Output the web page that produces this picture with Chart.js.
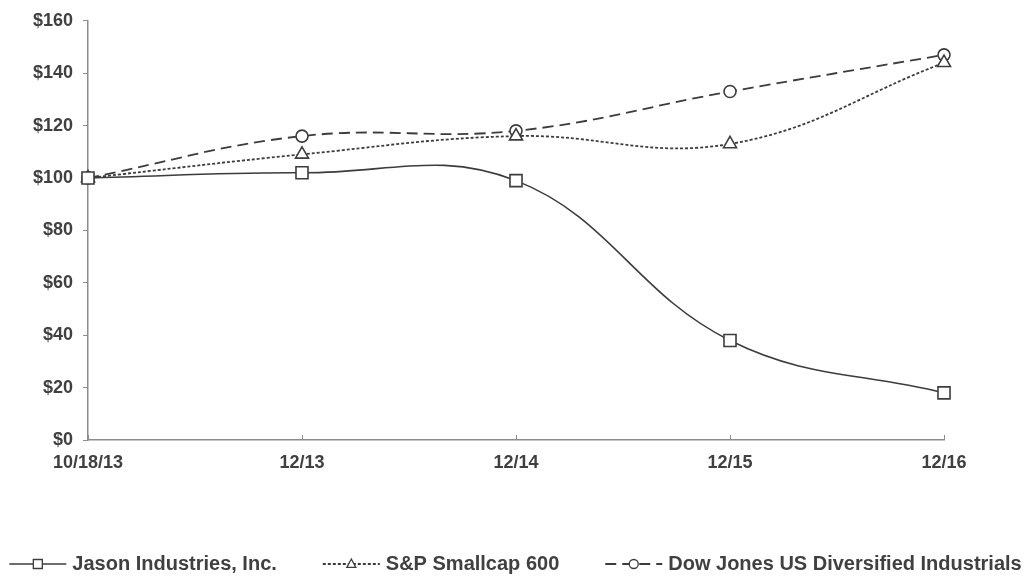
<!DOCTYPE html>
<html>
<head>
<meta charset="utf-8">
<script src="https://cdn.jsdelivr.net/npm/chart.js@4.4.0/dist/chart.umd.min.js"></script>
<style>
  html, body { margin: 0; padding: 0; background: #fff; }
  #wrap { width: 1031px; height: 579px; }
</style>
</head>
<body>
<div id="wrap"><canvas id="perfChart" width="1031" height="579"></canvas></div>
<script>
// ===== Data =====
const periods = ['10/18/13', '12/13', '12/14', '12/15', '12/16'];
const jasonValues = [100, 102, 99, 38, 18];
const smallcapValues = [100, 109, 116, 113, 144];
const dowValues = [100, 116, 118, 133, 147];
const yTicks = [0, 20, 40, 60, 80, 100, 120, 140, 160];

const lineColor = '#3c3c3c';
const axisColor = '#8c8c8c';
const textColor = '#404040';
const fontFamily = '"Liberation Sans", Arial, sans-serif';

// small upward tick marks on the category axis
const innerTicks = {
    id: 'innerTicks',
    afterDraw(chart) {
        const xs = chart.scales.x;
        const ctx = chart.ctx;
        ctx.save();
        ctx.strokeStyle = axisColor;
        ctx.lineWidth = 1;
        xs.ticks.forEach((t, i) => {
            const px = Math.round(xs.getPixelForTick(i)) + 0.5;
            ctx.beginPath();
            ctx.moveTo(px, xs.top);
            ctx.lineTo(px, xs.top - 5);
            ctx.stroke();
        });
        ctx.restore();
    }
};

function drawMarker(ctx, style, x, y, r) {
    ctx.beginPath();
    if (style === 'rect') {
        ctx.rect(x - r, y - r, r * 2, r * 2);
    } else if (style === 'triangle') {
        ctx.moveTo(x, y - r * 1.1);
        ctx.lineTo(x + r, y + r * 0.75);
        ctx.lineTo(x - r, y + r * 0.75);
        ctx.closePath();
    } else {
        ctx.arc(x, y, r, 0, Math.PI * 2);
    }
    ctx.fill();
    ctx.stroke();
}

// legend: line sample + marker + label, centred at the bottom
const lineLegend = {
    id: 'lineLegend',
    afterDraw(chart) {
        const ctx = chart.ctx;
        const y = 564;
        const lineLen = 57, gapText = 6, gapItem = 46;
        ctx.save();
        ctx.font = 'bold 20px ' + fontFamily;
        const items = chart.data.datasets.map(ds => ({
            ds: ds,
            w: lineLen + gapText + ctx.measureText(ds.label).width
        }));
        const total = items.reduce((s, it) => s + it.w, 0) + gapItem * (items.length - 1);
        let x = (chart.width - total) / 2;
        items.forEach(it => {
            const ds = it.ds;
            ctx.strokeStyle = ds.borderColor;
            ctx.lineWidth = ds.borderWidth;
            ctx.setLineDash(ds.borderDash || []);
            ctx.beginPath();
            ctx.moveTo(x, y);
            ctx.lineTo(x + lineLen, y);
            ctx.stroke();
            ctx.setLineDash([]);
            ctx.fillStyle = '#fff';
            ctx.lineWidth = 1.3;
            drawMarker(ctx, ds.pointStyle, x + lineLen / 2, y, 4.5);
            ctx.fillStyle = textColor;
            ctx.textAlign = 'left';
            ctx.textBaseline = 'middle';
            ctx.fillText(ds.label, x + lineLen + gapText, y);
            x += it.w + gapItem;
        });
        ctx.restore();
    }
};

const ctx = document.getElementById('perfChart');
new Chart(ctx, {
    type: 'line',
    data: {
        labels: periods,
        datasets: [{
            label: 'Jason Industries, Inc.',
            data: jasonValues,
            borderColor: lineColor,
            borderWidth: 1.6,
            pointStyle: 'rect',
            pointRadius: 8.5,
            pointBorderWidth: 1.6,
            pointBackgroundColor: '#fff',
            pointBorderColor: lineColor,
            tension: 0.4
        }, {
            label: 'S&P Smallcap 600',
            data: smallcapValues,
            borderColor: lineColor,
            borderWidth: 1.8,
            borderDash: [3, 2],
            pointStyle: 'triangle',
            pointRadius: 7.5,
            pointBorderWidth: 1.6,
            pointBackgroundColor: '#fff',
            pointBorderColor: lineColor,
            tension: 0.4
        }, {
            label: 'Dow Jones US Diversified Industrials',
            data: dowValues,
            borderColor: lineColor,
            borderWidth: 1.8,
            borderDash: [11, 6],
            pointStyle: 'circle',
            pointRadius: 6,
            pointBorderWidth: 1.6,
            pointBackgroundColor: '#fff',
            pointBorderColor: lineColor,
            tension: 0.4
        }]
    },
    options: {
        responsive: false,
        animation: false,
        devicePixelRatio: 1,
        layout: { padding: { left: 0, right: 87, top: 16, bottom: 99 } },
        plugins: {
            legend: { display: false },
            tooltip: { enabled: false }
        },
        scales: {
            x: {
                offset: false,
                grid: { drawOnChartArea: false, drawTicks: false },
                border: { display: true, color: axisColor, width: 1.5 },
                ticks: {
                    color: textColor,
                    padding: 12,
                    maxRotation: 0,
                    font: { family: fontFamily, size: 18, weight: 'bold' }
                },
                afterFit(scale) { scale.height = 40; }
            },
            y: {
                min: 0,
                max: 160,
                afterBuildTicks(scale) { scale.ticks = yTicks.map(v => ({ value: v })); },
                grid: { drawOnChartArea: false, drawTicks: true, tickLength: 5, color: axisColor },
                border: { display: true, color: axisColor, width: 1.5 },
                ticks: {
                    color: textColor,
                    padding: 10,
                    font: { family: fontFamily, size: 18, weight: 'bold' },
                    callback: v => '$' + v
                },
                afterFit(scale) { scale.width = 88; }
            }
        }
    },
    plugins: [innerTicks, lineLegend]
});
</script>
</body>
</html>
